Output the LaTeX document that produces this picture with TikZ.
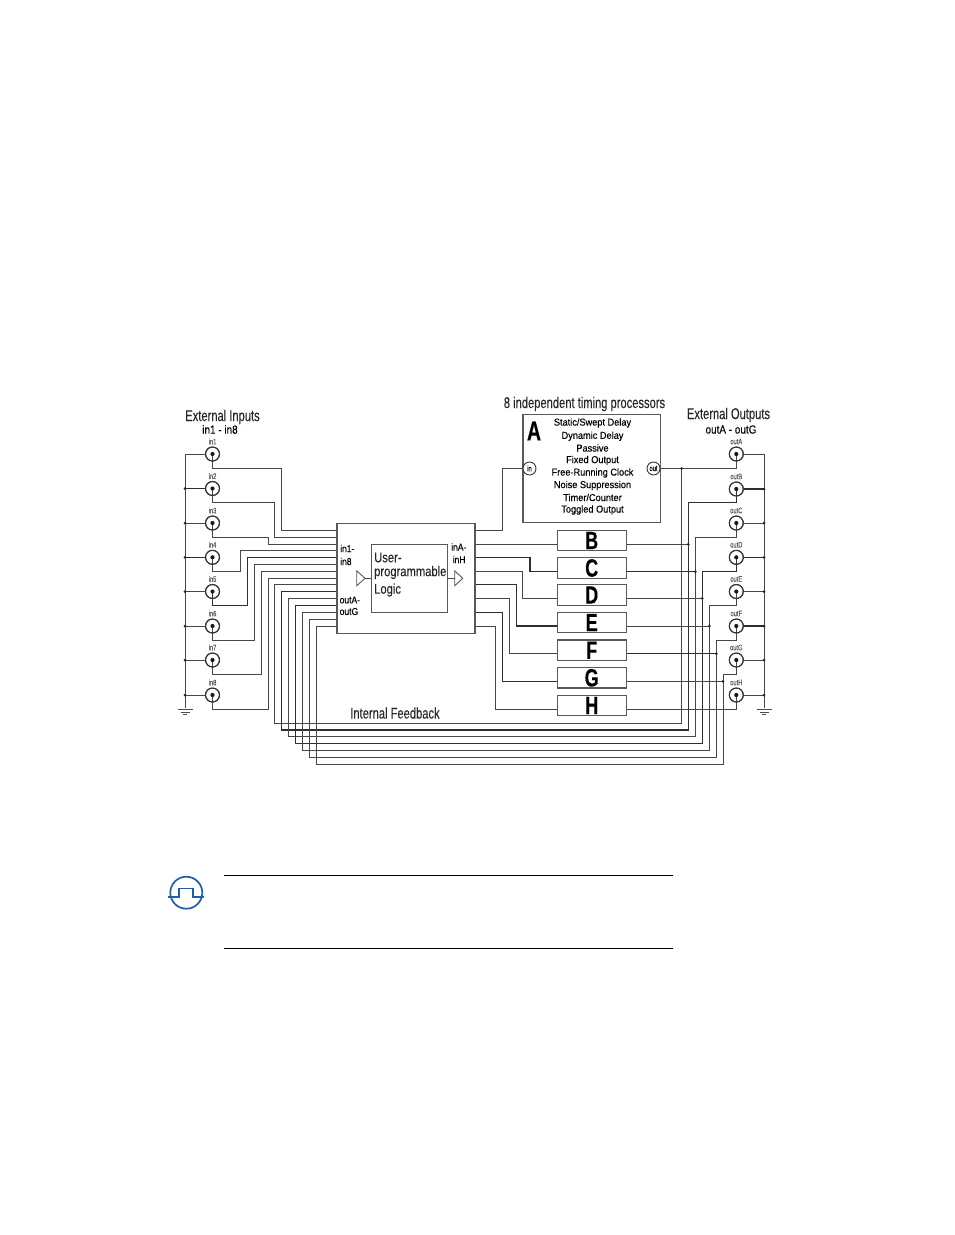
\documentclass[tikz,border=0pt]{standalone}
\usepackage{fontspec}
\setmainfont{Liberation Sans}
\newfontfamily\nar[FakeStretch=0.72,FakeBold=0.12]{Liberation Sans}
\newfontfamily\nau[FakeStretch=0.8,FakeBold=0.12]{Liberation Sans}
\newfontfamily\nab[FakeStretch=0.72,FakeBold=0.3]{Liberation Sans Bold}
\newfontfamily\lab[FakeStretch=0.85,FakeBold=0.2]{Liberation Sans}
\newfontfamily\lam[FakeStretch=0.92,FakeBold=0.2]{Liberation Sans}
\definecolor{iconblue}{HTML}{1F5EA8}
\begin{document}
\begin{tikzpicture}[x=1pt,y=-1pt,
  wire/.style={draw=black!72,line width=0.95pt,line join=miter},
  heavy/.style={wire,draw=black!82,line width=1.2pt},
  box/.style={draw=black!65,line width=1.2pt,fill=white,inner sep=0pt},
  conn/.style={circle,draw=black!80,line width=1pt,fill=white,minimum size=14pt,inner sep=0pt},
  port/.style={circle,draw=black!80,line width=0.9pt,fill=white,minimum size=13pt,inner sep=0pt,font=\nar\fontsize{8}{8}\selectfont},
  dotp/.style={circle,fill=black!90,minimum size=4.2pt,inner sep=0pt},
  junc/.style={circle,fill=black!85,minimum size=3pt,inner sep=0pt},
  tag/.style={font=\nar\fontsize{8}{8}\selectfont,text=black!65,inner sep=0pt},
  head/.style={font=\nar\fontsize{15.5}{15.5}\selectfont,text=black!85,inner sep=0pt},
  logictext/.style={font=\nau\fontsize{14}{14}\selectfont,text=black!85,inner sep=0pt,anchor=west},
  sub/.style={font=\lab\fontsize{11.7}{11.7}\selectfont,text=black,inner sep=0pt},
  pin/.style={font=\lab\fontsize{10}{10}\selectfont,text=black,inner sep=0pt,anchor=west},
  mode/.style={font=\lam\fontsize{10}{10}\selectfont,text=black,inner sep=0pt},
  letter/.style={font=\nab\fontsize{25}{25}\selectfont,text=black,inner sep=0pt},
  amp/.style={draw=black!65,line width=0.9pt,fill=white},
  gnd/.style={draw=black!70,line width=0.9pt},
  rulel/.style={draw=black,line width=0.9pt},
  iconl/.style={draw=iconblue,line width=1.7pt}]
\useasboundingbox (0,0) rectangle (954,1235);

% buses
\coordinate (busLt) at (185,454); \coordinate (busLb) at (185,708);
\coordinate (busRt) at (764,454); \coordinate (busRb) at (764,708);

% logic block and processors
\node[box,minimum width=138pt,minimum height=109.5pt] (logic) at (406,578.4) {};
\node[box,minimum width=76pt,minimum height=68pt] (upl) at (409.3,578.3) {};
\node[box,minimum width=137.7pt,minimum height=108.4pt] (A) at (591.9,468.5) {};
\node[box,minimum width=69pt,minimum height=20.5pt,letter] (B) at (591.7,540.5) {B};
\node[box,minimum width=69pt,minimum height=20.5pt,letter] (C) at (591.7,568) {C};
\node[box,minimum width=69pt,minimum height=20.5pt,letter] (D) at (591.7,595) {D};
\node[box,minimum width=69pt,minimum height=20.5pt,letter] (E) at (591.7,622.6) {E};
\node[box,minimum width=69pt,minimum height=20.5pt,letter] (F) at (591.7,650.3) {F};
\node[box,minimum width=69pt,minimum height=20.5pt,letter] (G) at (591.7,677.8) {G};
\node[box,minimum width=69pt,minimum height=20.5pt,letter] (H) at (591.7,705.5) {H};

% connectors
\foreach \n/\y in {1/454,2/488.5,3/523,4/557.3,5/591.5,6/626,7/660,8/695}{
  \node[conn] (in\n) at (212.5,\y) {};
  \node[tag] (inT\n) at (212.5,\y-12.5) {in\n};
}
\foreach \n/\y in {A/454,B/489,C/523,D/557.3,E/591.5,F/626,G/660,H/695}{
  \node[conn] (out\n) at (736.3,\y) {};
  \node[tag] (outT\n) at (736.3,\y-12.5) {out\n};
}
\node[port] (pin) at (529.5,468.5) {in};
\node[port] (pout) at (653.5,468.5) {out};

% bus lines
\draw[wire] (busLt) -- (busLb);
\draw[wire] (busRt) -- (busRb);
\draw[wire] (busLt) -- (in1);
\draw[wire] (busRt) -- (outA);
\foreach \n in {3,5,6,7,8}{ \draw[wire] (busLb |- in\n) -- (in\n); \node[junc] at (busLb |- in\n) {}; }
\foreach \n in {2,4}{ \draw[heavy] (busLb |- in\n) -- (in\n); \node[junc] at (busLb |- in\n) {}; }
\foreach \n in {C,E,G,H}{ \draw[wire] (busRb |- out\n) -- (out\n); \node[junc] at (busRb |- out\n) {}; }
\foreach \n in {B,D,F}{ \draw[heavy] (busRb |- out\n) -- (out\n); \node[junc] at (busRb |- out\n) {}; }

% pins on the logic block, left edge
\foreach \n/\y in {1/530.7,2/537.3,3/544.3,4/550.7,5/557.7,6/564.3,7/571.3,8/578.3,
  A/584.7,B/591.7,C/598.7,D/605.3,E/612,F/619,G/626}{
  \coordinate (L\n) at (logic.west |- 0,\y);
}
% external inputs to logic
\draw[wire] (in1.center) |- (281.7,468.7) |- (L1);
\draw[wire] (in2.center) |- (274.7,502.3) |- (L2);
\draw[wire] (in3.center) |- (268,537) |- (L3);
\draw[wire] (in4.center) |- (240.3,571.3) |- (L4);
\draw[heavy] (in5.center) |- (247.3,605.3) |- (L5);
\draw[wire] (in6.center) |- (254,640) |- (L6);
\draw[wire] (in7.center) |- (261,674.7) |- (L7);
\draw[wire] (in8.center) |- (268,709) |- (L8);

% logic outputs to processors
\coordinate (RA) at (logic.east |- 0,530.3);
\coordinate (RB) at (logic.east |- 0,544.3);
\coordinate (RC) at (logic.east |- 0,557.7);
\coordinate (RD) at (logic.east |- 0,571.3);
\coordinate (RE) at (logic.east |- 0,584.7);
\coordinate (RF) at (logic.east |- 0,598.7);
\coordinate (RG) at (logic.east |- 0,612.3);
\coordinate (RH) at (logic.east |- 0,626);
\draw[wire] (RA) -| (502.3,468.5) -- (pin);
\draw[wire] (RB) -- (B.west |- RB);
\draw[heavy] (RC) -| (530,571.7) -- (C.west |- 0,571.7);
\draw[wire] (RD) -| (522.7,598.7) -- (D.west |- 0,598.7);
\draw[heavy] (RE) -| (516.3,626) -- (E.west |- 0,626);
\draw[wire] (RF) -| (509.3,653.7) -- (F.west |- 0,653.7);
\draw[heavy] (RG) -| (502.3,681.7) -- (G.west |- 0,681.7);
\draw[wire] (RH) -| (495,709.3) -- (H.west |- 0,709.3);

% outputs with internal feedback
\draw[wire] (pout) -- (outA.center |- pout) -- (outA.center);
\draw[wire] (681.7,468.5) |- (274.7,723.3) |- (LA);
\draw[heavy] (outB.center) |- (688.3,502.7) |- (281.3,729.9) |- (LB);
\draw[wire] (outC.center) |- (695.3,537) |- (288.7,736.8) |- (LC);
\draw[heavy] (outD.center) |- (702.3,571.7) |- (295.7,743.8) |- (LD);
\draw[wire] (outE.center) |- (709.3,605.3) |- (302.3,750.8) |- (LE);
\draw[wire] (outF.center) |- (716.3,640.3) |- (309.3,757.8) |- (LF);
\draw[wire] (outG.center) |- (723,674.3) |- (316.3,764.8) |- (LG);

% processor outputs
\draw[wire] (B.east |- 0,544.3) -- (688.3,544.3);
\draw[heavy] (C.east |- 0,571.7) -- (695.3,571.7);
\draw[wire] (D.east |- 0,598.3) -- (702.3,598.3);
\draw[wire] (E.east |- 0,626) -- (709.3,626);
\draw[heavy] (F.east |- 0,653.7) -- (716.3,653.7);
\draw[wire] (G.east |- 0,681.3) -- (723,681.3);
\draw[wire] (H.east |- 0,709.3) -- (736.3,709.3) -- (outH.center);
\foreach \x/\y in {681.7/468.5,688.3/544.3,695.3/571.7,702.3/598.3,709.3/626,716.3/653.7,723/681.3}{
  \node[junc] at (\x,\y) {};
}

% connector redraw on top of the leads
\foreach \n in {1,...,8}{ \node[conn,fill=none] at (in\n) {}; \node[dotp] at (in\n) {}; }
\foreach \n in {A,...,H}{ \node[conn,fill=none] at (out\n) {}; \node[dotp] at (out\n) {}; }

% amplifiers inside the logic block
\draw[amp] (356.7,570.8) -- (365,578.3) -- (356.7,585.8) -- cycle;
\draw[wire] (365,578.3) -- (upl.west |- 0,578.3);
\draw[amp] (454.7,570.8) -- (462.7,578.3) -- (454.7,585.8) -- cycle;
\draw[wire] (upl.east |- 0,578.3) -- (454.7,578.3);

% grounds
\foreach \b in {busLb,busRb}{
  \draw[gnd] ([xshift=-7.5pt,yshift=-1.5pt]\b) -- ([xshift=7.5pt,yshift=-1.5pt]\b);
  \draw[gnd] ([xshift=-4.5pt,yshift=-4pt]\b) -- ([xshift=4.5pt,yshift=-4pt]\b);
  \draw[gnd] ([xshift=-2pt,yshift=-6.5pt]\b) -- ([xshift=2pt,yshift=-6.5pt]\b);
}

% texts
\node[head] (t1) at (222.5,417) {External Inputs};
\node[sub] (t2) at (220,429.5) {in1 - in8};
\node[head] (t3) at (584.5,404) {8 independent timing processors};
\node[head] (t4) at (728.5,415) {External Outputs};
\node[sub] (t5) at (731,429.5) {outA - outG};
\node[head] (t6) at (395,713) {Internal Feedback};
\node[pin] (p1) at (340,548.5) {in1-};
\node[pin] (p2) at (340,561.5) {in8};
\node[pin] (p3) at (339.5,600) {outA-};
\node[pin] (p4) at (339.5,611.5) {outG};
\node[pin] (p5) at (451,547) {inA-};
\node[pin] (p6) at (452.5,559.5) {inH};
\node[logictext] (u1) at (374,557.5) {User-};
\node[logictext] (u2) at (374,572.5) {programmable};
\node[logictext] (u3) at (374,590) {Logic};
\node[font=\nab\fontsize{27}{27}\selectfont,inner sep=0pt] (Aname) at (534,431) {A};
\node[mode] (m1) at (592.5,423) {Static/Swept Delay};
\node[mode] (m2) at (592.5,436.2) {Dynamic Delay};
\node[mode] (m3) at (592.5,448) {Passive};
\node[mode] (m4) at (592.5,460.5) {Fixed Output};
\node[mode] (m5) at (592.5,473) {Free-Running Clock};
\node[mode] (m6) at (592.5,485.5) {Noise Suppression};
\node[mode] (m7) at (592.5,497.5) {Timer/Counter};
\node[mode] (m8) at (592.5,510) {Toggled Output};

% note rules and icon
\coordinate (r1a) at (224,875.5); \coordinate (r1b) at (673,875.5);
\coordinate (r2a) at (224,948.5); \coordinate (r2b) at (673,948.5);
\draw[rulel] (r1a) -- (r1b);
\draw[rulel] (r2a) -- (r2b);
\node[circle,iconl,minimum size=32pt,inner sep=0pt] (icon) at (186.3,892.7) {};
\draw[iconl,line width=1.3pt] (168,897) -- (179,897) -- (179,888.3) -- (193,888.3) -- (193,897) -- (204,897);
\end{tikzpicture}
\end{document}
